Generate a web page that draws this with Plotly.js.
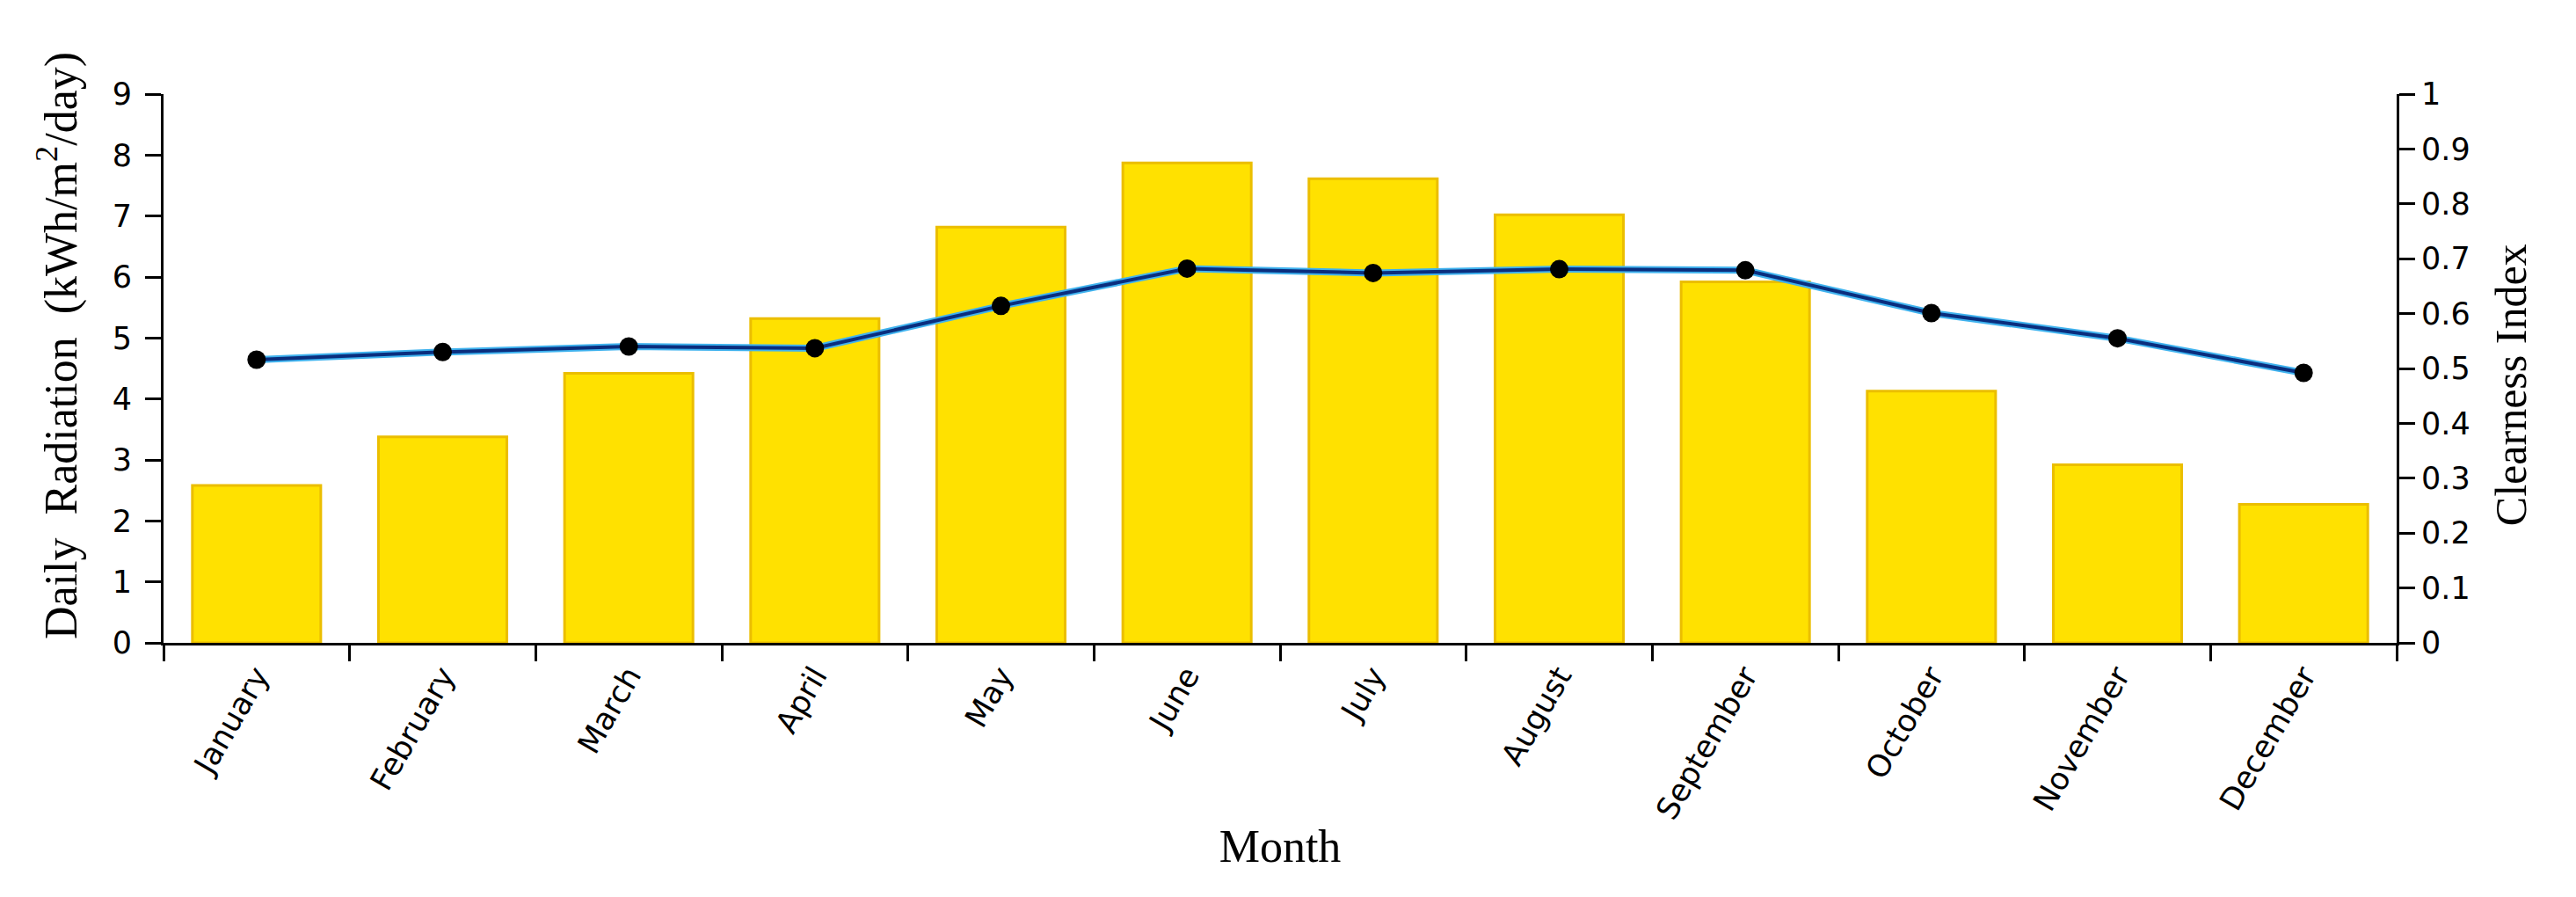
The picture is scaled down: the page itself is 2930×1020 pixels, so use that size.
<!DOCTYPE html>
<html>
<head>
<meta charset="utf-8">
<script src="https://cdn.plot.ly/plotly-3.0.1.min.js"></script>
<style>
  html, body { margin: 0; padding: 0; background: #ffffff; }
  #chart { width: 2930px; height: 1020px; }
</style>
</head>
<body>
<div id="chart"></div>
<script>
const months = ["January", "February", "March", "April", "May", "June",
                "July", "August", "September", "October", "November", "December"];
const dailyRadiation = [2.58, 3.38, 4.42, 5.32, 6.82, 7.87, 7.61, 7.02, 5.92, 4.13, 2.92, 2.27];
const clearnessIndex = [0.516, 0.530, 0.540, 0.537, 0.614, 0.682, 0.674, 0.681, 0.679, 0.601, 0.555, 0.492];

const leftTicks = [0, 1, 2, 3, 4, 5, 6, 7, 8, 9];
const rightTicks = [0, 0.1, 0.2, 0.3, 0.4, 0.5, 0.6, 0.7, 0.8, 0.9, 1];
const rightTickText = ["0", "0.1", "0.2", "0.3", "0.4", "0.5", "0.6", "0.7", "0.8", "0.9", "1"];

const tickFont = { family: "DejaVu Sans, Verdana, sans-serif", size: 35, color: "#000000" };
const titleFont = { family: "Liberation Serif, Times New Roman, serif", size: 52, color: "#000000" };
const NB = "\u00a0";
const pad = n => "<span>" + NB.repeat(n) + "</span>";

const traces = [
  {
    type: "bar",
    x: months,
    y: dailyRadiation,
    name: "Daily Radiation",
    marker: { color: "#FFE100", line: { color: "#EBBE00", width: 3 } },
    yaxis: "y",
    hoverinfo: "x+y"
  },
  {
    type: "scatter",
    mode: "lines",
    x: months,
    y: clearnessIndex,
    yaxis: "y2",
    line: { color: "#3FB2EE", width: 8 },
    hoverinfo: "skip",
    showlegend: false
  },
  {
    type: "scatter",
    mode: "lines+markers",
    x: months,
    y: clearnessIndex,
    name: "Clearness Index",
    yaxis: "y2",
    line: { color: "#0A2E7E", width: 4 },
    marker: { color: "#000000", size: 21, symbol: "circle" }
  }
];

const layout = {
  width: 2930,
  height: 1020,
  paper_bgcolor: "#ffffff",
  plot_bgcolor: "#ffffff",
  showlegend: false,
  bargap: 0.31,
  margin: { l: 186, r: 204, t: 107, b: 289, pad: 0 },
  xaxis: {
    type: "category",
    categoryorder: "array",
    categoryarray: months,
    range: [-0.5, 11.5],
    autorange: false,
    tickson: "boundaries",
    ticks: "outside",
    ticklen: 18,
    tickwidth: 3,
    tickcolor: "#000000",
    showline: true,
    linecolor: "#000000",
    linewidth: 3,
    showgrid: false,
    zeroline: false,
    tickangle: -60,
    tickfont: tickFont,
    automargin: false,
    title: { text: "Month", font: titleFont, standoff: 6 }
  },
  yaxis: {
    range: [0, 9],
    autorange: false,
    tickvals: leftTicks,
    ticks: "outside",
    ticklen: 18,
    tickwidth: 3,
    tickcolor: "#000000",
    showline: true,
    linecolor: "#000000",
    linewidth: 3,
    showgrid: false,
    zeroline: false,
    tickfont: tickFont,
    ticklabelstandoff: 8,
    automargin: false,
    title: { text: pad(4) + "Daily" + NB + NB + "Radiation" + NB + NB + "(kWh/m<sup>2</sup>/day)", font: titleFont, standoff: 24 }
  },
  yaxis2: {
    overlaying: "y",
    side: "right",
    range: [0, 1],
    autorange: false,
    tickvals: rightTicks,
    ticktext: rightTickText,
    ticks: "outside",
    ticklen: 18,
    tickwidth: 3,
    tickcolor: "#000000",
    showline: true,
    linecolor: "#000000",
    linewidth: 3,
    showgrid: false,
    zeroline: false,
    tickfont: tickFont,
    ticklabelstandoff: 0,
    automargin: false,
    title: { text: "Clearness Index" + pad(3), font: { family: "Liberation Serif, Times New Roman, serif", size: 50, color: "#000000" }, standoff: 30 }
  }
};

Plotly.newPlot("chart", traces, layout, { displayModeBar: false, staticPlot: true });
</script>
</body>
</html>
